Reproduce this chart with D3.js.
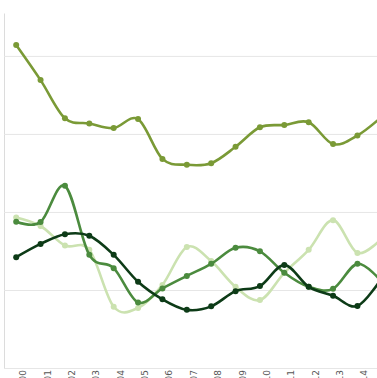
<!DOCTYPE html>
<html>
<head>
<meta charset="utf-8">
<script src="https://cdn.jsdelivr.net/npm/d3@7"></script>
<style>
    body { margin: 0; background: #fff; overflow: hidden; }
    .grid line { stroke: #e6e6e6; }
    .grid .domain { stroke: #dcdcdc; }
    .x.axis text { fill: #555; font-family: "DejaVu Sans", sans-serif; font-size: 9px; }
    .x.axis .domain { stroke: none; }
</style>
</head>
<body>
<div id="chart-area"></div>
<script>
/*
*    main.js
*/

// Data
var years = [2000, 2001, 2002, 2003, 2004, 2005, 2006, 2007, 2008, 2009, 2010, 2011, 2012, 2013, 2014, 2015];
var seriesNames = ["Olive", "Light", "Medium", "Dark"];
var olive  = [82.8, 73.8, 64.0, 62.7, 61.5, 63.8, 53.6, 52.1, 52.5, 56.7, 61.7, 62.3, 63.0, 57.4, 59.6, 64.4];
var light  = [38.6, 36.4, 31.4, 30.3, 15.7, 15.4, 21.3, 31.0, 27.4, 20.8, 17.4, 24.4, 30.3, 37.9, 29.5, 33.3];
var medium = [37.5, 37.4, 46.7, 29.0, 25.6, 16.8, 20.4, 23.6, 26.7, 30.8, 29.9, 24.4, 20.8, 20.3, 26.7, 22.1];
var dark   = [28.4, 31.8, 34.3, 33.9, 29.0, 22.1, 17.6, 14.9, 15.8, 19.7, 21.0, 26.4, 20.8, 18.5, 15.9, 23.1];
var gridValues = [0, 20, 40, 60, 80];

var margin = {top: 13, right: 0, bottom: 10, left: 4},
    width = 394 - margin.left,
    height = 368 - margin.top;

var svg = d3.select("#chart-area").append("svg")
    .attr("width", 377)
    .attr("height", 378);

var g = svg.append("g")
    .attr("transform", "translate(" + margin.left + "," + margin.top + ")");

// Scales
var x = d3.scalePoint().domain(years).range([0, width]).padding(0.5);
var y = d3.scaleLinear().domain([0, 91]).range([height, 0]);
var color = d3.scaleOrdinal()
    .domain(seriesNames)
    .range(["#7a9a36", "#cbe2b0", "#4b8b3e", "#0d3b17"]);

// Grid
g.append("g")
    .attr("class", "grid")
    .call(d3.axisLeft(y).tickValues(gridValues).tickSize(-width).tickSizeOuter(0).tickFormat(""));

// X axis
var xAxis = g.append("g")
    .attr("class", "x axis")
    .attr("transform", "translate(0," + height + ")")
    .call(d3.axisBottom(x).tickSize(0));

xAxis.selectAll("text")
    .attr("transform", "rotate(-90)")
    .attr("text-anchor", "end")
    .attr("x", -2)
    .attr("y", 9.5)
    .attr("dy", 0);

// Lines
var line = d3.line()
    .x(function(d, i){ return x(years[i]); })
    .y(function(d){ return y(d); })
    .curve(d3.curveCardinal);

var data = [
    {key: "Light", values: light},
    {key: "Medium", values: medium},
    {key: "Dark", values: dark},
    {key: "Olive", values: olive}
];

var series = g.selectAll(".series")
    .data(data)
    .enter()
    .append("g")
    .attr("class", "series");

series.append("path")
    .attr("fill", "none")
    .attr("stroke", function(d){ return color(d.key); })
    .attr("stroke-width", 2.6)
    .attr("d", function(d){ return line(d.values); });

series.selectAll("circle")
    .data(function(d){ return d.values.map(function(v, i){ return {key: d.key, year: years[i], value: v}; }); })
    .enter()
    .append("circle")
    .attr("cx", function(d){ return x(d.year); })
    .attr("cy", function(d){ return y(d.value); })
    .attr("r", 3)
    .attr("fill", function(d){ return color(d.key); });
</script>
</body>
</html>
